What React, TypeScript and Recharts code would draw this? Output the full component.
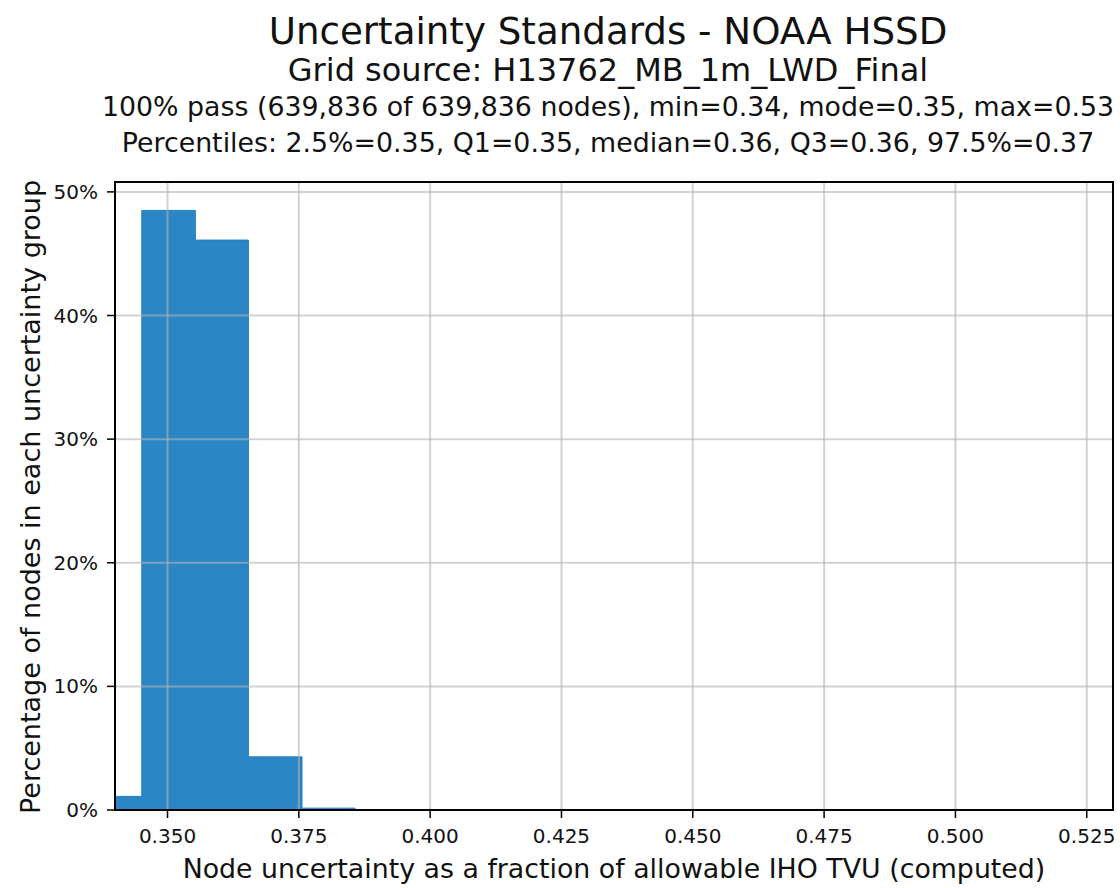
import { Area, ComposedChart, Label, ReferenceLine, XAxis, YAxis } from "recharts";

// Histogram of node uncertainty (fraction of allowable IHO TVU).
// Bin edges; the last edge closes the tail up to the max.
const binEdges = [0.335, 0.3451, 0.3553, 0.3654, 0.3756, 0.3857, 0.53];
const percentOfNodes = [1.1, 48.5, 46.1, 4.3, 0.15, 0, 0];

const xTicks = [0.35, 0.375, 0.4, 0.425, 0.45, 0.475, 0.5, 0.525];
const yTicks = [10, 20, 30, 40, 50];
const yTickLabels = [0, 10, 20, 30, 40, 50];

const titleLines = [
  "Uncertainty Standards - NOAA HSSD",
  "Grid source: H13762_MB_1m_LWD_Final",
  "100% pass (639,836 of 639,836 nodes), min=0.34, mode=0.35, max=0.53",
  "Percentiles: 2.5%=0.35, Q1=0.35, median=0.36, Q3=0.36, 97.5%=0.37",
];

const X_LABEL = "Node uncertainty as a fraction of allowable IHO TVU (computed)";
const Y_LABEL = "Percentage of nodes in each uncertainty group";

const FONT = '"DejaVu Sans", sans-serif';
const BAR_BLUE = "#1f80c2";
const GRID = "#b4b4b4";
const WIDTH = 1120;
const HEIGHT = 888;
const TITLE_CENTER = 608;

// title block sits above the plot
const TITLE_STYLES = [
  { top: 9, fontSize: 37.2 },
  { top: 51, fontSize: 32 },
  { top: 91, fontSize: 26.8 },
  { top: 127, fontSize: 26.8 },
];

function YTitle({ viewBox }: { viewBox?: { x: number; y: number; height: number } }) {
  if (!viewBox) return null;
  const cx = 30;
  const cy = viewBox.y + viewBox.height / 2 + 1;
  return (
    <text
      x={cx}
      y={cy}
      transform={`rotate(-90, ${cx}, ${cy})`}
      textAnchor="middle"
      dominantBaseline="central"
      fontFamily={FONT}
      fontSize={27}
      fill="#111"
    >
      {Y_LABEL}
    </text>
  );
}

export default function App() {
  const data = binEdges.map((x, i) => ({ x, pct: percentOfNodes[i] }));

  return (
    <div
      style={{
        position: "absolute",
        left: 0,
        top: 0,
        width: WIDTH,
        height: HEIGHT,
        overflow: "hidden",
        background: "#fff",
        fontFamily: FONT,
      }}
    >
      {titleLines.map((line, i) => (
        <div
          key={i}
          style={{
            position: "absolute",
            left: TITLE_CENTER - 600,
            width: 1200,
            top: TITLE_STYLES[i].top,
            fontSize: TITLE_STYLES[i].fontSize,
            lineHeight: 1.2,
            display: "flex",
            justifyContent: "center",
            whiteSpace: "nowrap",
            color: "#111",
          }}
        >
          {line}
        </div>
      ))}

      <ComposedChart
        width={WIDTH}
        height={HEIGHT}
        data={data}
        margin={{ top: 182, right: 7, bottom: 0, left: 0 }}
        style={{ position: "absolute", left: 0, top: 0 }}
      >
        <XAxis
          type="number"
          dataKey="x"
          domain={[0.34, 0.53]}
          allowDataOverflow
          ticks={xTicks}
          tickFormatter={(v: number) => v.toFixed(3)}
          height={78}
          tickSize={8}
          tickMargin={11}
          tick={{ fontFamily: FONT, fontSize: 20, fill: "#111" }}
          axisLine={{ stroke: "#000", strokeWidth: 2 }}
          tickLine={{ stroke: "#000", strokeWidth: 1.5 }}
        >
          <Label
            value={X_LABEL}
            position="insideBottom"
            offset={10}
            style={{ fontFamily: FONT, fontSize: 26.8, fill: "#111" }}
          />
        </XAxis>
        <YAxis
          domain={[0, 50.8]}
          allowDataOverflow
          ticks={yTickLabels}
          tickFormatter={(v: number) => `${v}%`}
          width={115}
          tickSize={8}
          tickMargin={9}
          tick={{ fontFamily: FONT, fontSize: 20, fill: "#111" }}
          axisLine={{ stroke: "#000", strokeWidth: 2 }}
          tickLine={{ stroke: "#000", strokeWidth: 1.5 }}
        >
          <Label content={<YTitle />} />
        </YAxis>
        <Area
          type="stepAfter"
          dataKey="pct"
          baseValue={0}
          stroke={BAR_BLUE}
          strokeWidth={1}
          fill={BAR_BLUE}
          fillOpacity={0.95}
          isAnimationActive={false}
        />
        {/* matplotlib draws the grid over the bars, semi-transparent */}
        {xTicks.map((t) => (
          <ReferenceLine
            key={`gx${t}`}
            x={t}
            stroke={GRID}
            strokeOpacity={0.6}
            strokeWidth={2}
          />
        ))}
        {yTicks.map((t) => (
          <ReferenceLine
            key={`gy${t}`}
            y={t}
            stroke={GRID}
            strokeOpacity={0.6}
            strokeWidth={2}
          />
        ))}
      </ComposedChart>

      {/* axes frame (all four spines) */}
      <div
        style={{
          position: "absolute",
          left: 114,
          top: 181,
          width: 1000,
          height: 630,
          border: "2px solid #000",
          boxSizing: "border-box",
          pointerEvents: "none",
        }}
      />
    </div>
  );
}
